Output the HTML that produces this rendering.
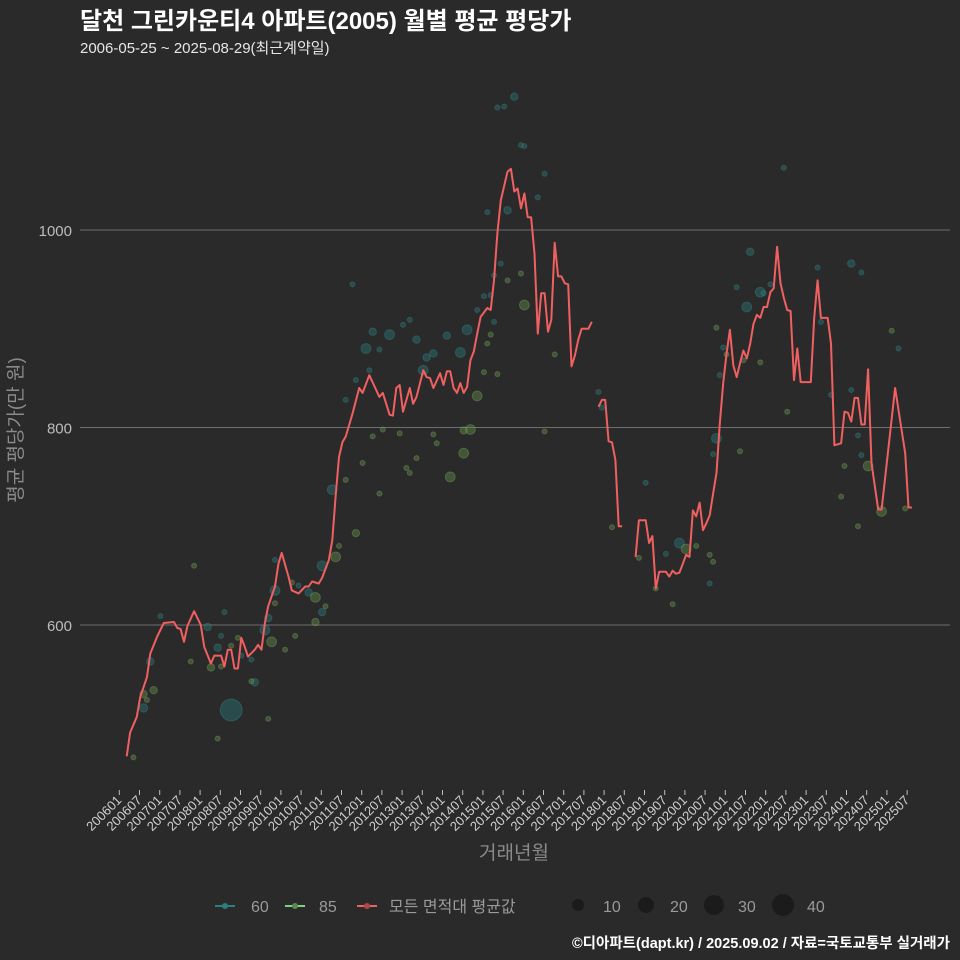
<!DOCTYPE html>
<html><head><meta charset="utf-8"><style>
html,body{margin:0;padding:0;background:#2b2a2b;}
svg{display:block;font-family:"Liberation Sans","Noto Sans CJK KR",sans-serif;}
</style></head><body>
<svg id="chart" width="960" height="960" viewBox="0 0 960 960">
<rect width="960" height="960" fill="#2b2a2b"/>
<text x="80" y="29" fill="#ffffff" font-size="24" font-weight="bold">달천 그린카운티4 아파트(2005) 월별 평균 평당가</text>
<text x="80" y="53" fill="#e6e6e6" font-size="15">2006-05-25 ~ 2025-08-29(최근계약일)</text>
<g id="grid"></g>
<g id="yticks"></g>
<g id="xticks"></g>
<g id="dots"></g>
<g id="line"></g>
<text transform="translate(22,430) rotate(-90)" text-anchor="middle" fill="#8a8a8a" font-size="19">평균 평당가(만 원)</text>
<text x="514" y="859" text-anchor="middle" fill="#8a8a8a" font-size="19">거래년월</text>
<g>
<g><line x1="215" y1="906" x2="235" y2="906" stroke="#2a7f7f" stroke-width="2"/><circle cx="225" cy="906" r="3" fill="#2a7f7f"/><text x="251" y="912" fill="#9a9a9a" font-size="16">60</text></g>
<g><line x1="285" y1="906" x2="305" y2="906" stroke="#7fd27f" stroke-width="2"/><circle cx="295" cy="906" r="3" fill="#5c8c4c"/><text x="319" y="912" fill="#9a9a9a" font-size="16">85</text></g>
<g><line x1="357" y1="906" x2="377" y2="906" stroke="#f06060" stroke-width="2"/><circle cx="367" cy="906" r="3" fill="#b04848"/><text x="389" y="912" fill="#9a9a9a" font-size="16">모든 면적대 평균값</text></g>
<g>
<circle cx="578" cy="905" r="6" fill="#1c1b1c"/><text x="603" y="912" fill="#9a9a9a" font-size="16">10</text>
<circle cx="646" cy="905" r="8" fill="#1c1b1c"/><text x="670" y="912" fill="#9a9a9a" font-size="16">20</text>
<circle cx="714" cy="905" r="10" fill="#1c1b1c"/><text x="738" y="912" fill="#9a9a9a" font-size="16">30</text>
<circle cx="783" cy="905" r="11" fill="#1c1b1c"/><text x="807" y="912" fill="#9a9a9a" font-size="16">40</text>
</g></g>
<text x="950" y="948" text-anchor="end" fill="#ffffff" font-size="14.5" font-weight="bold">©디아파트(dapt.kr) / 2025.09.02 / 자료=국토교통부 실거래가</text>
</svg>
<script>
const yTicks=[600,800,1000];
const xTickLabels=["200601","200607","200701","200707","200801","200807","200901","200907","201001","201007","201101","201107","201201","201207","201301","201307","201401","201407","201501","201507","201601","201607","201701","201707","201801","201807","201901","201907","202001","202007","202101","202107","202201","202207","202301","202307","202401","202407","202501","202507"];
// average line: month index (months since 2006-01) and value; null = gap
const lineMonths=[4,5,7,8,10,11,13,15,18,19,20,21,22,24,26,27,29,30,32,33,34,35,36,37,38,39,40,42,43,44,45,46,48,49,50,52,53,55,57,58,59,61,62,64,65,66,67,68,69,71,73,74,76,79,80,82,83,84,85,86,88,89,90,92,93,94,95,97,98,99,100,101,102,103,104,105,106,107,108,109,111,112,113,114,115,117,118,119,120,121,122,123,124,125,126,127,128,129,130,131,132,133,134,135,136,137,138,139,141,142,143,
144,145,146,147,148,149,150,151,152,
155,156,158,159,160,161,162,164,165,166,167,168,169,170,171,172,173,174,175,176,177,178,179,180,181,182,183,184,185,186,187,188,189,190,191,192,193,194,195,196,197,198,199,200,201,202,203,204,207,208,209,210,212,213,214,216,217,218,219,220,221,222,223,224,225,227,228,232,235,236,237];
const lineValues=[467,491,507,527,547,571,588,602,603,597,596,583,599,614,600,578,561,569,569,558,575,575,556,556,587,578,568,575,580,575,602,619,639,662,673,649,635,632,639,639,644,642,648,666,686,730,770,785,791,814,840,835,853,831,835,813,812,840,843,816,840,824,831,858,851,850,840,855,843,857,857,840,835,845,835,841,868,877,895,912,921,919,949,997,1030,1059,1062,1039,1042,1022,1037,1013,1013,976,895,936,936,897,909,987,953,953,946,945,862,873,889,900,900,907,null,
821,828,828,786,785,767,700,700,null,
669,706,706,683,690,637,654,654,649,655,652,653,662,671,669,716,710,724,696,703,711,733,754,804,845,875,899,863,851,865,878,870,885,905,914,911,922,922,937,941,983,946,931,919,918,848,880,846,846,911,949,911,911,885,782,784,816,815,806,830,830,803,803,859,764,717,717,840,774,719,719];
// individual transactions (type 60 / 85)
const dot60Months=[35,9,11,14,33,28,31,32,38,41,42,45,46,48,48,55,58,62,62,65,69,72,71,75,77,76,79,82,86,88,90,92,93,95,99,103,105,108,110,112,113,113,115,117,114,116,119,121,122,126,128,111,144,145,158,168,164,177,178,179,180,181,185,189,188,192,193,195,199,209,210,219,221,222,219,222,233,213];
const dot60Values=[514,516,563,609,613,598,577,589,569,565,542,595,607,635,666,640,633,613,660,737,828,848,945,880,897,858,879,894,904,909,889,858,871,875,893,876,899,919,933,934,907,954,966,1020,1124,1125,1135,1086,1085,1033,1057,1018,836,820,744,683,672,642,773,789,853,881,942,978,922,937,936,945,1063,962,907,838,792,772,966,957,880,833];
const dot60Sizes=[40,12,10,5,5,10,10,5,5,5,10,15,10,15,5,5,10,10,15,15,5,5,5,15,10,5,5,15,5,5,10,15,10,10,10,15,15,5,5,5,5,5,5,10,5,5,10,5,5,5,5,5,5,5,5,15,5,5,5,15,5,5,5,10,15,15,5,5,5,5,5,5,5,5,10,5,5,5];
const dot85Months=[6,9,10,12,23,24,31,29,32,35,37,41,46,47,48,51,53,54,60,60,63,66,67,69,72,74,77,79,80,85,87,88,90,95,96,100,104,104,106,108,110,111,112,114,117,121,122,128,131,148,156,161,166,170,173,177,178,179,182,186,187,192,200,217,221,216,224,228,235,231];
const dot85Values=[466,530,524,534,563,660,485,557,558,579,587,543,505,583,622,575,643,589,628,603,619,669,680,747,693,764,791,733,798,794,759,754,769,793,784,750,774,797,798,832,856,885,894,854,949,956,924,796,874,699,668,637,621,677,680,671,664,901,874,776,868,866,816,761,700,730,761,715,718,898];
const dot85Sizes=[5,10,5,10,5,5,5,10,5,5,5,5,5,15,5,5,5,5,15,10,5,15,5,5,10,5,5,5,5,5,5,5,5,5,5,15,15,10,15,15,5,5,5,5,5,5,15,5,5,5,5,5,5,15,5,5,5,5,5,5,5,5,5,5,5,5,15,15,5,5];

const NS="http://www.w3.org/2000/svg";
function xTick(i){return 119.3+i*20.2;}
function xMonth(m){return 126.7+(m-4)*3.37;}
function yVal(v){return 230+(1000-v)*0.9875;}
function rSize(s){return 1.3+s*0.24;}
function mk(tag,attrs,parent){const e=document.createElementNS(NS,tag);for(const k in attrs)e.setAttribute(k,attrs[k]);parent.appendChild(e);return e;}

const grid=document.getElementById('grid'),yt=document.getElementById('yticks');
yTicks.forEach(v=>{
  const l=mk('line',{x1:80,x2:950,y1:yVal(v),y2:yVal(v),stroke:'#6e6e6e','stroke-width':1},grid);
  
  
  const t=mk('text',{x:72,y:yVal(v)+6,'text-anchor':'end',fill:'#bdbdbd','font-size':15},yt);
  t.textContent=v;
  
  
});
const xt=document.getElementById('xticks');
xTickLabels.forEach((lab,i)=>{
  const x=xTick(i);
  const tk=mk('line',{x1:x,x2:x,y1:790,y2:795,stroke:'#bdbdbd','stroke-width':1},xt);
  
  
  const t=mk('text',{x:x+3,y:801,'text-anchor':'end',fill:'#d0d0d0','font-size':13,transform:`rotate(-45 ${x+3} 801)`},xt);
  t.textContent=lab;
  
  
});
const dots=document.getElementById('dots');
function drawDots(ms,vs,ss,fill,stroke,name){
  ms.forEach((m,i)=>{
    const c=mk('circle',{cx:xMonth(m),cy:yVal(vs[i]),r:rSize(ss[i]),fill:fill,'fill-opacity':0.45,stroke:stroke,'stroke-opacity':0.35,'stroke-width':1},dots);
    
    
  });
}
drawDots(dot60Months,dot60Values,dot60Sizes,'#2a7373','#3a9090','point-60');
drawDots(dot85Months,dot85Values,dot85Sizes,'#5f8a48','#80b068','point-85');
const lg=document.getElementById('line');
let segs=[],cur=[];
lineMonths.forEach((m,i)=>{const v=lineValues[i];if(v==null){if(cur.length)segs.push(cur);cur=[];}else cur.push(xMonth(m).toFixed(1)+','+yVal(v).toFixed(1));});
if(cur.length)segs.push(cur);
segs.forEach(s=>{
  const p=mk('polyline',{points:s.join(' '),fill:'none',stroke:'#f06060','stroke-width':2,'stroke-linejoin':'round'},lg);
  
  
});
</script>
</body></html>
